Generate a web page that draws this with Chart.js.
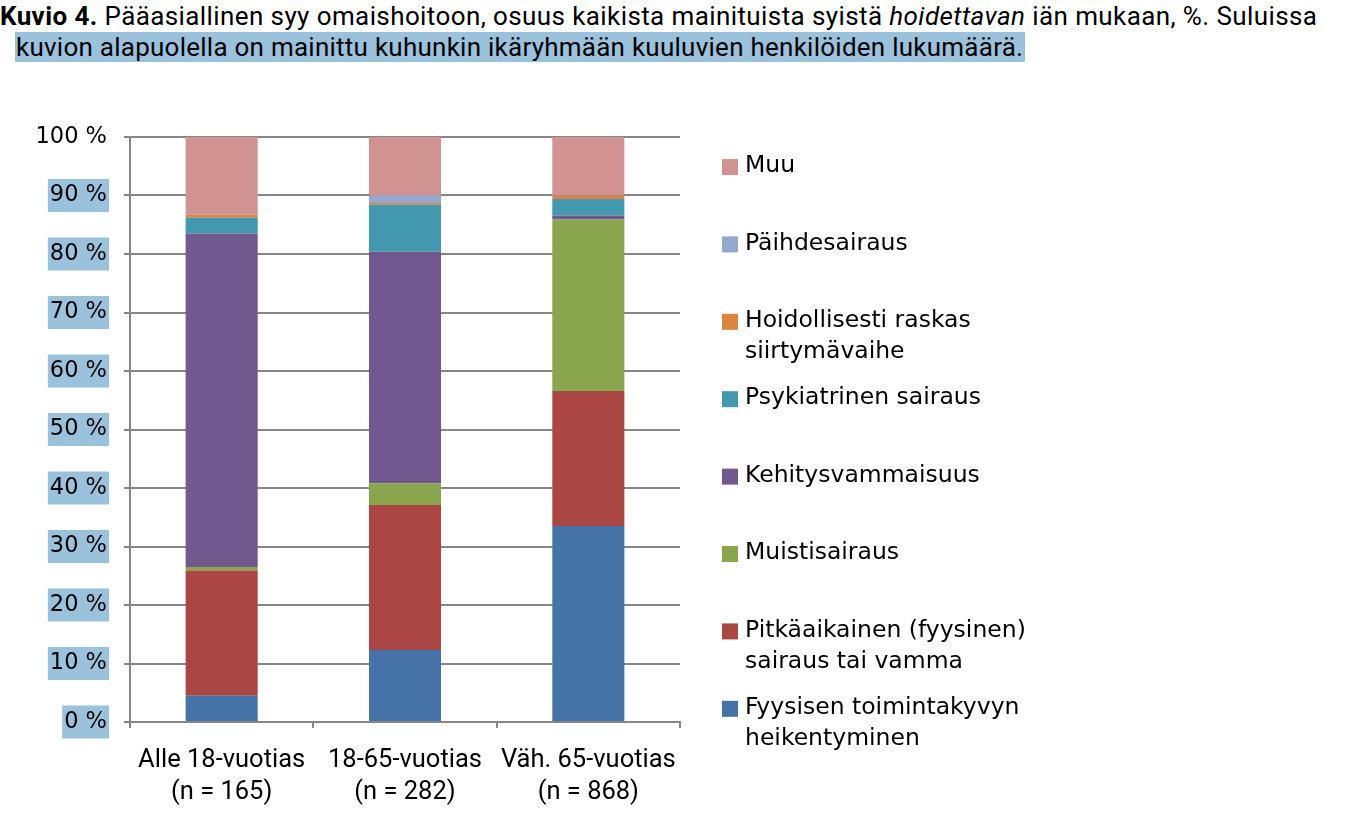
<!DOCTYPE html>
<html>
<head>
<meta charset="utf-8">
<script src="https://cdn.jsdelivr.net/npm/chart.js@4"></script>
<style>
html, body { margin: 0; padding: 0; background: #fff; }
#title { position: absolute; left: 0; top: 0; width: 1364px; font-family: 'Liberation Sans Narrow', 'Roboto', sans-serif; font-size: 26px; letter-spacing: 0.4px; color: #000; }
#title div { position: absolute; white-space: nowrap; line-height: 28px; }
#title .hl { background: #9bc2dc; padding: 0 2px 0 1px; letter-spacing: 0.25px; }
#wrap { position: absolute; left: 0; top: 100px; width: 1364px; height: 724px; }
</style>
</head>
<body>
<div id="title">
	<div style="left:0;top:2px"><b>Kuvio 4.</b> Pääasiallinen syy omaishoitoon, osuus kaikista mainituista syistä <i>hoidettavan</i> iän mukaan, %. Suluissa</div>
	<div style="left:15px;top:33px"><span class="hl">kuvion alapuolella on mainittu kuhunkin ikäryhmään kuuluvien henkilöiden lukumäärä.</span></div>
</div>
<div id="wrap"><canvas id="chart" width="1364" height="724"></canvas></div>
<script>
// ikäryhmät (x-akseli)
const categories = [
	['Alle 18-vuotias', '(n = 165)'],
	['18-65-vuotias', '(n = 282)'],
	['Väh. 65-vuotias', '(n = 868)']
];
const yTicks = [0, 10, 20, 30, 40, 50, 60, 70, 80, 90, 100];

// syyt, alhaalta ylös
const seriesNames = [
	'Fyysisen toimintakyvyn heikentyminen',
	'Pitkäaikainen (fyysinen) sairaus tai vamma',
	'Muistisairaus',
	'Kehitysvammaisuus',
	'Psykiatrinen sairaus',
	'Hoidollisesti raskas siirtymävaihe',
	'Päihdesairaus',
	'Muu'
];
const legendLines = [
	['Fyysisen toimintakyvyn', 'heikentyminen'],
	['Pitkäaikainen (fyysinen)', 'sairaus tai vamma'],
	['Muistisairaus'],
	['Kehitysvammaisuus'],
	['Psykiatrinen sairaus'],
	['Hoidollisesti raskas', 'siirtymävaihe'],
	['Päihdesairaus'],
	['Muu']
];
const seriesColors = ['#4572a7', '#aa4643', '#89a54e', '#71588f', '#4198af', '#db843d', '#93a9cf', '#d19392'];

// osuudet %
const fyysinen      = [4.5, 12.3, 33.5];
const pitkaaikainen = [21.4, 24.8, 23.1];
const muisti        = [0.6, 3.7, 29.3];
const kehitys       = [57.0, 39.6, 0.7];
const psykiatrinen  = [2.7, 8.0, 2.8];
const siirtyma      = [0.5, 0.3, 0.6];
const paihde        = [0, 1.3, 0];
const muu           = [13.3, 10.0, 10.0];
const seriesValues = [fyysinen, pitkaaikainen, muisti, kehitys, psykiatrinen, siirtyma, paihde, muu];

const tickFont = { family: "'DejaVu Sans', sans-serif", size: 22.5 };
const legendFont = { family: "'DejaVu Sans', sans-serif", size: 23.5 };
const catFont = { family: "'Liberation Sans Narrow', 'Roboto', sans-serif", size: 25.5, lineHeight: 1.25 };
const gridColor = '#868686';

// oma selite oikealle, ylhäältä alas (Muu ensin)
const sideLegend = {
	id: 'sideLegend',
	afterDraw(chart) {
		const ctx = chart.ctx;
		const n = chart.data.datasets.length;
		ctx.save();
		ctx.font = legendFont.size + 'px ' + legendFont.family;
		ctx.textBaseline = 'middle';
		ctx.textAlign = 'left';
		for (let k = 0; k < n; k++) {
			const i = n - 1 - k;
			const y = 66 + k * 77.4;
			ctx.fillStyle = chart.data.datasets[i].backgroundColor;
			ctx.fillRect(722, y - 7, 16, 16);
			ctx.fillStyle = '#000';
			legendLines[i].forEach(function(line, j){
				ctx.fillText(line, 745, y + j * 31);
			});
		}
		ctx.restore();
	}
};

const ctx = document.getElementById('chart').getContext('2d');
const chart = new Chart(ctx, {
	type: 'bar',
	data: {
		labels: categories,
		datasets: seriesNames.map(function(name, i){
			return {
				label: name,
				data: seriesValues[i],
				backgroundColor: seriesColors[i],
				borderWidth: 0,
				categoryPercentage: 1,
				barPercentage: 0.393
			};
		})
	},
	options: {
		responsive: false,
		animation: false,
		layout: { padding: { left: 0, top: 37, right: 684, bottom: 0 } },
		plugins: {
			legend: { display: false },
			tooltip: { enabled: false }
		},
		scales: {
			x: {
				stacked: true,
				grid: { display: true, drawOnChartArea: false, drawTicks: true, tickLength: 6, color: gridColor, lineWidth: 2 },
				border: { display: true, color: gridColor, width: 2 },
				ticks: { font: catFont, color: '#000', padding: 17, maxRotation: 0, autoSkip: false },
				afterFit: function(scale){ scale.height = 102; }
			},
			y: {
				stacked: true,
				min: 0,
				max: 100,
				afterBuildTicks: function(scale){ scale.ticks = yTicks.map(function(v){ return { value: v }; }); },
				grid: { color: gridColor, lineWidth: 2, tickLength: 6 },
				border: { display: true, color: gridColor, width: 2 },
				ticks: {
					font: tickFont,
					color: '#000',
					padding: 17,
					callback: function(v){ return v + ' %'; },
					showLabelBackdrop: function(c){ return c.tick && c.tick.value < 100; },
					backdropColor: '#9bc2dc',
					backdropPadding: { top: 3, bottom: 3, left: 2, right: 2 }
				},
				afterFit: function(scale){ scale.width = 130; }
			}
		}
	},
	plugins: [sideLegend]
});
</script>
</body>
</html>
